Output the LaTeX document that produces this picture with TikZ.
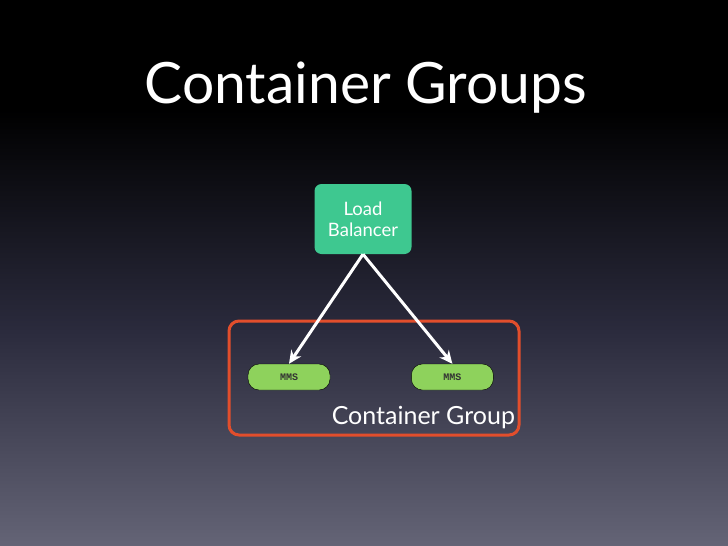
\documentclass[tikz,border=0pt]{standalone}
\usepackage{fontspec}
\setmainfont{Lato}
\setmonofont{Liberation Mono}
\usepackage{xcolor}
\usetikzlibrary{arrows.meta, positioning}

\definecolor{bgbottom}{RGB}{100,100,118}
\definecolor{bgmid}{RGB}{42,42,60}
\definecolor{lbgreen}{RGB}{62,200,144}
\definecolor{mmsgreen}{RGB}{142,210,92}
\definecolor{framered}{RGB}{226,78,44}

\begin{document}
\begin{tikzpicture}[
  x=1pt, y=-1pt,
  lb/.style={fill=lbgreen, rounded corners=7pt, minimum width=97pt, minimum height=70pt,
             align=center, text=white, font=\fontsize{18.5}{21}\selectfont},
  mms/.style={draw=black, fill=mmsgreen, rounded corners=11pt, minimum width=82pt,
              minimum height=26pt, font=\ttfamily\bfseries\fontsize{10}{11}\selectfont, text=black!80},
  frame/.style={draw=framered, line width=3pt, rounded corners=10pt,
                minimum width=290pt, minimum height=114pt},
  edge/.style={-{Stealth[length=13pt,width=12pt]}, draw=white, line width=3pt}
]
% background
\useasboundingbox (0,0) rectangle (728,546);
\fill[black] (0,0) rectangle (728,110);
\shade[top color=black, bottom color=bgbottom, middle color=bgmid] (0,110) rectangle (728,546);

\node[text=white, font=\fontsize{57}{60}\selectfont, anchor=base west] (title) at (141,103) {Container Groups};

\node[lb] (lb) at (363,219) {Load\\Balancer};

\node[mms] (mms1) at (289,377) {MMS};
\node[mms, right=81pt of mms1] (mms2) {MMS};

\node[frame] (group) at (374,378) {};
\node[text=white, font=\fontsize{25}{27}\selectfont, anchor=base east] (grouplabel)
  at ([xshift=-2pt, yshift=12pt]group.south east) {Container Group};

\draw[edge] (lb.south) -- (mms1.north);
\draw[edge] (lb.south) -- (mms2.north);
\end{tikzpicture}
\end{document}
